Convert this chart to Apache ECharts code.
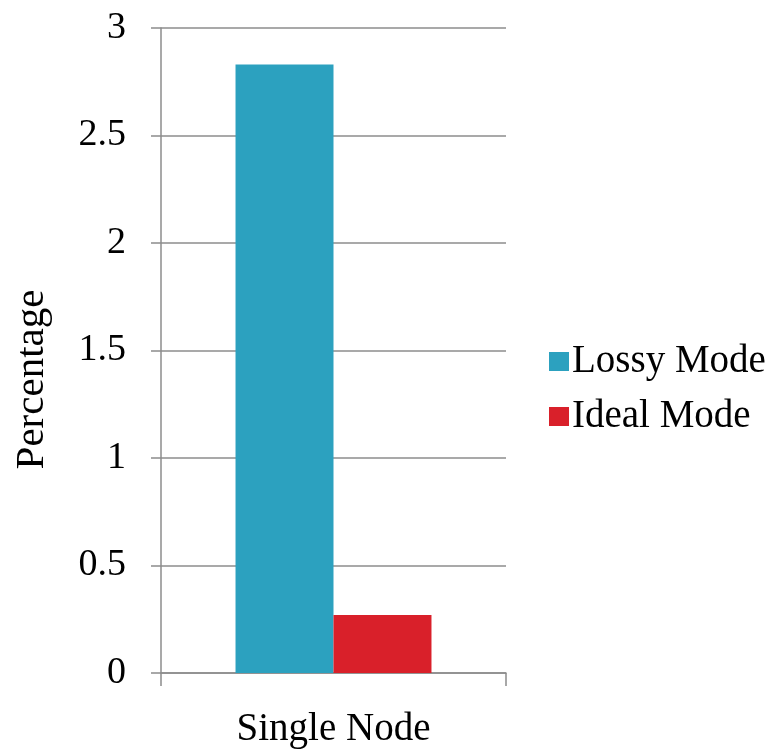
<!DOCTYPE html>
<html>
<head>
<meta charset="utf-8">
<script src="https://cdn.jsdelivr.net/npm/echarts@6/dist/echarts.min.js"></script>
<style>
  html, body { margin: 0; padding: 0; background: #fff; }
  #chart { width: 774px; height: 749px; }
</style>
</head>
<body>
<div id="chart"></div>
<script>
// Chart data
const categories = ['Single Node'];
const seriesNames = ['Lossy Mode', 'Ideal Mode'];
const lossyValues = [2.83];
const idealValues = [0.27];
const yTickLabels = ['0', '0.5', '1', '1.5', '2', '2.5', '3'];

const FONT = '"Liberation Serif", "Times New Roman", serif';
const AXIS_GRAY = '#8c8c8c';

const chart = echarts.init(document.getElementById('chart'));
chart.setOption({
  backgroundColor: '#ffffff',
  animation: false,
  grid: { left: 161, right: 268, top: 28, bottom: 76 },
  legend: {
    orient: 'vertical',
    left: 544,
    top: 337,
    itemWidth: 20,
    itemHeight: 19,
    itemGap: 16,
    icon: 'rect',
    data: seriesNames,
    textStyle: { fontFamily: FONT, fontSize: 39, color: '#000', padding: [0, 0, 0, -2] }
  },
  xAxis: {
    type: 'category',
    data: categories,
    axisLine: { lineStyle: { color: AXIS_GRAY, width: 1.5 } },
    axisTick: { show: true, length: 13, lineStyle: { color: AXIS_GRAY, width: 1.5 } },
    axisLabel: { fontFamily: FONT, fontSize: 39, color: '#000', margin: 37 }
  },
  yAxis: {
    type: 'value',
    min: 0,
    max: 3,
    interval: 0.5,
    name: 'Percentage',
    nameLocation: 'middle',
    nameGap: 108,
    nameRotate: 90,
    // extra right padding pushes the rotated title downward
    nameTextStyle: { fontFamily: FONT, fontSize: 41, color: '#000', padding: [0, 58, 0, 0] },
    axisLine: { show: true, lineStyle: { color: AXIS_GRAY, width: 1.5 } },
    axisTick: { show: true, length: 10, lineStyle: { color: AXIS_GRAY, width: 1.5 } },
    splitLine: { show: true, lineStyle: { color: AXIS_GRAY, width: 1.5 } },
    axisLabel: {
      fontFamily: FONT, fontSize: 38, color: '#000', margin: 35,
      padding: [4, 0, 0, 0],
      formatter: (v) => yTickLabels[Math.round(v / 0.5)]
    }
  },
  series: [
    {
      name: seriesNames[0],
      type: 'bar',
      data: lossyValues,
      barWidth: '28.4%',
      barGap: '0%',
      itemStyle: { color: '#2ca1bf' }
    },
    {
      name: seriesNames[1],
      type: 'bar',
      data: idealValues,
      barWidth: '28.4%',
      barGap: '0%',
      itemStyle: { color: '#d9202a' }
    }
  ]
});
</script>
</body>
</html>
